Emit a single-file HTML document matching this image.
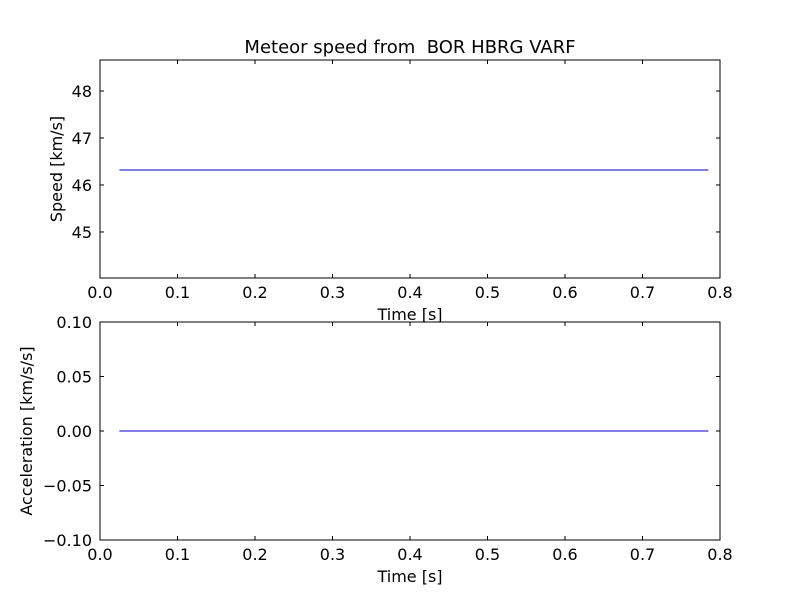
<!DOCTYPE html>
<html><head><meta charset="utf-8"><style>
body{margin:0;background:#fff;}
svg text{font-family:"DejaVu Sans","Liberation Sans",sans-serif;font-size:16px;fill:#000;}
</style></head><body>
<svg width="800" height="600" id="fig"></svg>
<script>
const timeValues=[0.025,0.785];
const speedValues=[46.32,46.32];
const accelValues=[0,0];
const xTicks=[0.0,0.1,0.2,0.3,0.4,0.5,0.6,0.7,0.8];
const speedTicks=[45,46,47,48];
const accelTicks=[-0.10,-0.05,0.00,0.05,0.10];
const NS='http://www.w3.org/2000/svg';
const svg=document.getElementById('fig');
function mk(t,a,p){const e=document.createElementNS(NS,t);for(const k in a)e.setAttribute(k,a[k]);(p||svg).appendChild(e);return e;}
function panel(name,top,bottom,ymin,ymax,yt,yfmt,ys,ylabel){
  const L=100,R=720;
  const g=mk('g',{});
  
  
  const X=v=>L+(v-0)/(0.8)*(R-L);
  const Y=v=>bottom-(v-ymin)/(ymax-ymin)*(bottom-top);
  const fr=mk('rect',{x:L,y:top,width:R-L,height:bottom-top,fill:'none',stroke:'#000','stroke-width':1},g);
  
  
  xTicks.forEach(v=>{
    const x=X(v);
    mk('line',{x1:x,x2:x,y1:bottom,y2:bottom-4,stroke:'#000'},g);
    mk('line',{x1:x,x2:x,y1:top,y2:top+4,stroke:'#000'},g);
    const t=mk('text',{x:x,y:bottom+20,'text-anchor':'middle'},g);
    t.textContent=v.toFixed(1);
    
    
  });
  yt.forEach(v=>{
    const y=Y(v);
    mk('line',{x1:L,x2:L+4,y1:y,y2:y,stroke:'#000'},g);
    mk('line',{x1:R,x2:R-4,y1:y,y2:y,stroke:'#000'},g);
    const t=mk('text',{x:L-8,y:y+6,'text-anchor':'end'},g);
    t.textContent=yfmt(v);
    
    
  });
  const pts=timeValues.map((t,i)=>X(t)+','+Y(ys[i])).join(' ');
  const pl=mk('polyline',{points:pts,fill:'none',stroke:'#0000cc','stroke-width':1},g);
  
  
  const xl=mk('text',{x:(L+R)/2,y:bottom+42,'text-anchor':'middle'},g);
  xl.textContent='Time [s]';
  
  
  const cy=(top+bottom)/2;
  const yl=mk('text',{x:0,y:0,'text-anchor':'middle',transform:`translate(${name==='speed-panel'?62:32},${cy}) rotate(-90)`},g);
  yl.textContent=ylabel;
  
  
}
const title=mk('text',{x:410,y:53,'text-anchor':'middle',style:'font-size:18px'});
title.textContent='Meteor speed from \u00a0BOR HBRG VARF';


panel('speed-panel',60,278,44.02,48.66,speedTicks,v=>String(v),speedValues,'Speed [km/s]');
panel('acceleration-panel',322,540,-0.1,0.1,accelTicks,v=>(v<0?'\u2212':'')+Math.abs(v).toFixed(2),accelValues,'Acceleration [km/s/s]');
</script>
</body></html>
